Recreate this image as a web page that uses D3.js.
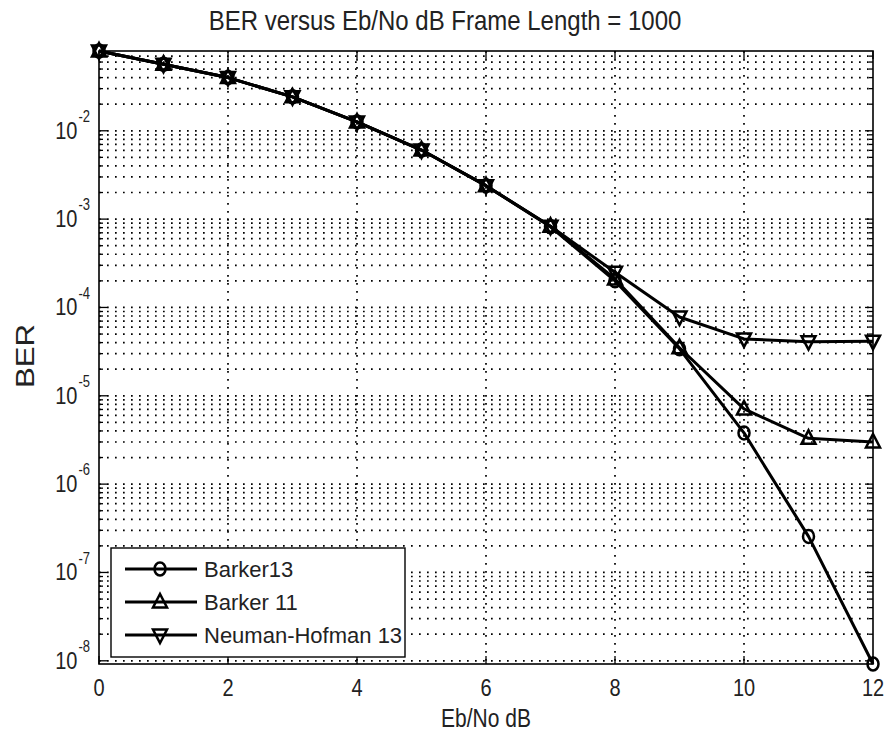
<!DOCTYPE html>
<html>
<head>
<meta charset="utf-8">
<script src="https://d3js.org/d3.v7.min.js"></script>
<style>
  body { margin: 0; background: #fff; }
  svg { display: block; font-family: "Liberation Sans", Arial, sans-serif; }
</style>
</head>
<body>
<svg id="chart" width="889" height="742"></svg>
<script>
// Eb/No (dB) on the x axis
var ebno = [0, 1, 2, 3, 4, 5, 6, 7, 8, 9, 10, 11, 12];

// BER per code
var barker13 = [0.080, 0.0566, 0.040, 0.0242, 0.0126, 0.00605, 0.00239, 8.2e-4, 2.0e-4, 3.4e-5, 3.8e-6, 2.56e-7, 9.2e-9];
var barker11 = [0.080, 0.0566, 0.040, 0.0242, 0.0126, 0.00605, 0.00239, 8.3e-4, 2.1e-4, 3.5e-5, 7.1e-6, 3.3e-6, 3.0e-6];
var neumanHofman13 = [0.080, 0.0566, 0.040, 0.0242, 0.0126, 0.00605, 0.00239, 8.3e-4, 2.5e-4, 7.8e-5, 4.4e-5, 4.1e-5, 4.15e-5];

var seriesNames = ["Barker13", "Barker 11", "Neuman-Hofman 13"];
var seriesMarkers = ["circle", "up", "down"];

var xTicks = [0, 2, 4, 6, 8, 10, 12];
var yDecades = [-8, -7, -6, -5, -4, -3, -2];

var svg = d3.select("#chart"),
    pLeft = 99, pRight = 873, pTop = 51, pBottom = 664;

var x = d3.scaleLinear().domain([0, 12]).range([pLeft, pRight]);
var y = d3.scaleLog().domain([9.2e-9, 0.080]).range([pBottom, pTop]);

// grid (dotted), horizontal on every decade + minor step
var gridVals = [];
for (var k = -9; k <= -1; k++) {
    for (var m = 1; m <= 9; m++) {
        var v = m * Math.pow(10, k);
        if (v > y.domain()[0] && v < y.domain()[1]) gridVals.push(v);
    }
}

var grid = svg.append("g").attr("stroke", "#000").attr("stroke-width", 1.7)
    .attr("stroke-dasharray", "1.7,6.3");
grid.selectAll("line.h").data(gridVals).enter().append("line")
    .attr("x1", pLeft).attr("x2", pRight)
    .attr("y1", function(d){ return y(d); }).attr("y2", function(d){ return y(d); });
grid.selectAll("line.v").data(xTicks.slice(1, -1)).enter().append("line")
    .attr("y1", pTop).attr("y2", pBottom)
    .attr("x1", function(d){ return x(d); }).attr("x2", function(d){ return x(d); });

// ticks inside the box, all four sides
var ticks = svg.append("g").attr("stroke", "#000").attr("stroke-width", 1.3);
xTicks.forEach(function(d){
    ticks.append("line").attr("x1", x(d)).attr("x2", x(d)).attr("y1", pBottom).attr("y2", pBottom - 8);
    ticks.append("line").attr("x1", x(d)).attr("x2", x(d)).attr("y1", pTop).attr("y2", pTop + 8);
});
gridVals.forEach(function(d){
    var major = Math.abs(Math.log10(d) - Math.round(Math.log10(d))) < 1e-9;
    var len = major ? 8 : 4;
    ticks.append("line").attr("x1", pLeft).attr("x2", pLeft + len).attr("y1", y(d)).attr("y2", y(d));
    ticks.append("line").attr("x1", pRight).attr("x2", pRight - len).attr("y1", y(d)).attr("y2", y(d));
});

svg.append("rect").attr("x", pLeft).attr("y", pTop)
    .attr("width", pRight - pLeft).attr("height", pBottom - pTop)
    .attr("fill", "none").attr("stroke", "#000").attr("stroke-width", 1.6);

// tick labels
var sy = 1.2;
xTicks.forEach(function(d){
    svg.append("text")
        .attr("transform", "translate(" + x(d) + "," + (pBottom + 32) + ") scale(1," + sy + ")")
        .attr("text-anchor", "middle").attr("font-size", 20).attr("fill", "#222")
        .text(d);
});
yDecades.forEach(function(d){
    var t = svg.append("text")
        .attr("transform", "translate(90," + (y(Math.pow(10, d)) + 8) + ") scale(1," + sy + ")")
        .attr("text-anchor", "end").attr("font-size", 20).attr("fill", "#222");
    t.append("tspan").text("10");
    t.append("tspan").attr("dx", 1).attr("dy", -14).attr("font-size", 13).text(d);
});

// title and axis labels
svg.append("text")
    .attr("transform", "translate(445,30) scale(1,1.18)")
    .attr("text-anchor", "middle").attr("font-size", 24).attr("fill", "#222")
    .text("BER versus Eb/No dB Frame Length = 1000");
svg.append("text")
    .attr("transform", "translate(486,727) scale(1,1.2)")
    .attr("text-anchor", "middle").attr("font-size", 21).attr("fill", "#222")
    .text("Eb/No dB");
svg.append("text")
    .attr("transform", "translate(34,356) scale(1,1.2) rotate(-90)")
    .attr("text-anchor", "middle").attr("font-size", 26).attr("fill", "#222")
    .text("BER");

// markers
function drawMarker(g, type, cx, cy){
    if (type == "circle") {
        g.append("ellipse").attr("cx", cx).attr("cy", cy).attr("rx", 5.5).attr("ry", 6.5);
    } else {
        var s = type == "up" ? -1 : 1;
        g.append("path").attr("d",
            "M" + (cx - 7) + "," + (cy - s * 5.5) +
            "L" + (cx + 7) + "," + (cy - s * 5.5) +
            "L" + cx + "," + (cy + s * 8) + "Z");
    }
}

var line = d3.line()
    .x(function(d, i){ return x(ebno[i]); })
    .y(function(d){ return y(d); });

[barker13, barker11, neumanHofman13].forEach(function(vals, si){
    var g = svg.append("g");
    g.append("path").datum(vals).attr("d", line)
        .attr("fill", "none").attr("stroke", "#000").attr("stroke-width", 3)
        .attr("stroke-linejoin", "round");
    var mg = g.append("g").attr("fill", "none").attr("stroke", "#000").attr("stroke-width", 2.5);
    vals.forEach(function(v, i){ drawMarker(mg, seriesMarkers[si], x(ebno[i]), y(v)); });
});

// legend
var lg = svg.append("g");
lg.append("rect").attr("x", 111).attr("y", 548).attr("width", 294).attr("height", 109)
    .attr("fill", "#fff").attr("stroke", "#000").attr("stroke-width", 1.4);
seriesNames.forEach(function(name, i){
    var ly = 569 + i * 33;
    lg.append("line").attr("x1", 125).attr("x2", 197).attr("y1", ly).attr("y2", ly)
        .attr("stroke", "#000").attr("stroke-width", 3);
    var mg = lg.append("g").attr("fill", "none").attr("stroke", "#000").attr("stroke-width", 2.5);
    drawMarker(mg, seriesMarkers[i], 160, ly);
    lg.append("text").attr("x", 204).attr("y", ly + 8)
        .attr("font-size", 22).attr("fill", "#222").text(name);
});
</script>
</body>
</html>
